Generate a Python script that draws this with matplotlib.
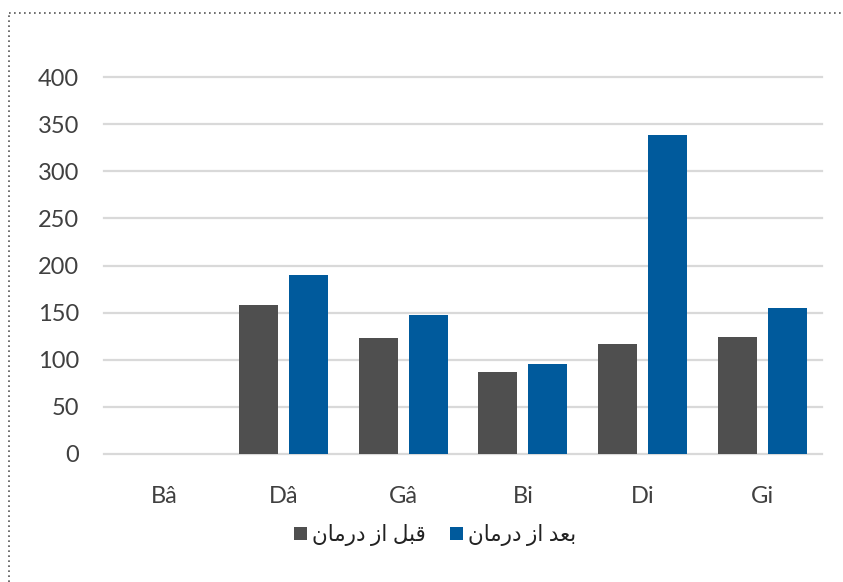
import matplotlib
matplotlib.use("Agg")
import matplotlib.pyplot as plt
import numpy as np
from matplotlib.lines import Line2D
from matplotlib.patches import Patch

# ── Data ──────────────────────────────────────────────────────────────────────
categories = ["Bâ", "Dâ", "Gâ", "Bi", "Di", "Gi"]
before = [0, 158, 123, 87, 116.5, 124]
after = [0, 190, 147, 95, 338, 155]
yticks = [0, 50, 100, 150, 200, 250, 300, 350, 400]

# Arabic labels pre-shaped (presentation forms, visual order) since
# matplotlib does no bidi / shaping on its own.
label_before = "\uFEE5\uFE8E\uFEE3\uFEAD\uFEA9 \uFEAF\uFE8D \uFEDE\uFE92\uFED7"  # قبل از درمان
label_after = "\uFEE5\uFE8E\uFEE3\uFEAD\uFEA9 \uFEAF\uFE8D \uFEAA\uFECC\uFE91"   # بعد از درمان

GREY = "#4F4F4F"
BLUE = "#005A9C"
GRID = "#D9D9D9"
TEXT = "#404040"

plt.rcParams["font.family"] = ["Lato", "DejaVu Sans"]

fig = plt.figure(figsize=(8.43, 5.82), dpi=100)
ax = fig.add_axes([104 / 843, 1 - 454 / 582, (822 - 104) / 843, (454 - 77) / 582])

x = np.arange(len(categories))
w = 0.326
off = 0.209
ax.bar(x - off, before, width=w, color=GREY, zorder=3)
ax.bar(x + off, after, width=w, color=BLUE, zorder=3)

ax.set_xlim(-0.5, len(categories) - 0.5)
ax.set_ylim(0, 400)
ax.set_yticks(yticks)
ax.set_xticks(x)
ax.set_xticklabels(categories)
ax.tick_params(axis="y", length=0, pad=18, labelsize=17, labelcolor=TEXT)
ax.tick_params(axis="x", length=0, pad=23, labelsize=17, labelcolor=TEXT)

ax.yaxis.grid(True, color=GRID, linewidth=1.6, zorder=0)
for gl in ax.get_ygridlines():
    gl.set_clip_on(False)
ax.set_axisbelow(True)
for s in ax.spines.values():
    s.set_visible(False)

handles = [Patch(facecolor=GREY), Patch(facecolor=BLUE)]
fig.legend(
    handles, [label_before, label_after],
    loc="center", bbox_to_anchor=(435 / 843, 1 - 535 / 582),
    ncol=2, frameon=False, fontsize=15.5,
    handlelength=0.6, handleheight=0.6, handletextpad=0.25,
    columnspacing=1.1, labelcolor="#222222",
)

# dotted chart-area border (top and left edges visible)
fig.add_artist(Line2D([9 / 843, 1.0], [1 - 13 / 582, 1 - 13 / 582],
                      transform=fig.transFigure, color="#555555",
                      linestyle=(0, (1, 2)), linewidth=1.2))
fig.add_artist(Line2D([9 / 843, 9 / 843], [0.0, 1 - 13 / 582],
                      transform=fig.transFigure, color="#555555",
                      linestyle=(0, (1, 2)), linewidth=1.2))

fig.savefig("out.png", dpi=100)
